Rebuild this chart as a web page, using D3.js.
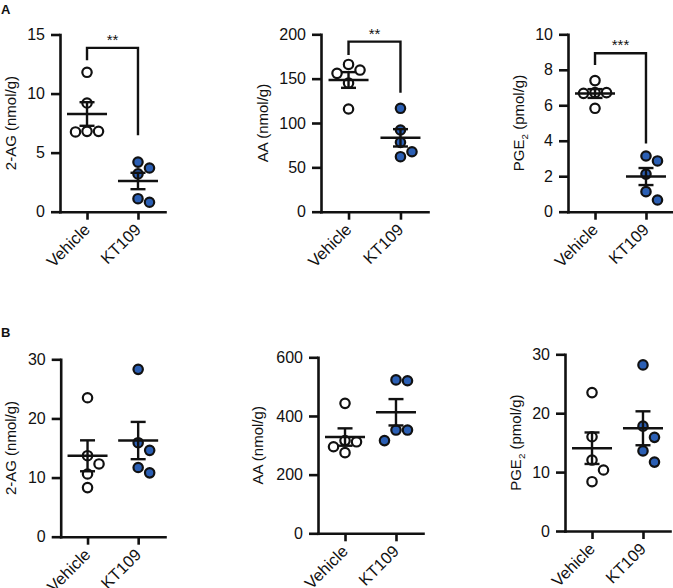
<!DOCTYPE html>
<html><head><meta charset="utf-8">
<script src="https://cdn.jsdelivr.net/npm/d3@7"></script>
<style>
body{margin:0;background:#fff}
text{font-family:"Liberation Sans",Arial,Helvetica,sans-serif;fill:#111}
</style>
</head><body>
<svg id="chart" width="673" height="588"></svg>
<script>
// ---------- data ----------
const groups = ["Vehicle", "KT109"];

// Row A
const a2agVehicle = [11.8, 9.2, 6.8, 6.75, 6.8];
const a2agKT109   = [4.2, 3.7, 3.2, 1.1, 0.8];
const aAAVehicle  = [166, 159.7, 156, 145, 115.8];
const aAAKT109    = [116.6, 92.1, 78.2, 67.6, 62];
const aPGEVehicle = [7.39, 6.71, 6.67, 6.71, 5.83];
const aPGEKT109   = [3.14, 2.86, 2.12, 1.13, 0.66];

// Row B
const b2agVehicle = [23.5, 13.7, 12.3, 10.6, 8.3];
const b2agKT109   = [28.3, 15.9, 14.6, 11.7, 10.8];
const bAAVehicle  = [443, 316, 312, 295, 275];
const bAAKT109    = [523, 520, 352, 352, 316];
const bPGEVehicle = [23.5, 16.0, 12.05, 10.36, 8.37];
const bPGEKT109   = [28.2, 17.8, 15.9, 13.6, 11.7];

// tick labels
const ticksA2AG = [0, 5, 10, 15];
const ticksAAA  = [0, 50, 100, 150, 200];
const ticksAPGE = [0, 2, 4, 6, 8, 10];
const ticksB2AG = [0, 10, 20, 30];
const ticksBAA  = [0, 200, 400, 600];
const ticksBPGE = [0, 10, 20, 30];

// significance brackets (data units: top, left end, right end) and labels
const sigA2AG = [13.87, 12.83, 6.48];
const sigAAA  = [191.7, 176.7, 134.2];
const sigAPGE = [8.93, 8.27, 3.85];
const sigLabels = ["**", "**", "***"];

// axis titles
const titles = [["2-AG (nmol/g)"], ["AA (nmol/g)"], ["PGE", "2", " (pmol/g)"]];

// ---------- layout ----------
const svg = d3.select("#chart");
const BLUE = "#2b5fb4";

const panels = [
  {ax: 60,  x1: 165, top: 34.5,  bot: 211.7, lab: 44, title: titles[0], v: a2agVehicle, k: a2agKT109, ticks: ticksA2AG, sig: sigA2AG, sigLab: sigLabels[0]},
  {ax: 321, x1: 428, top: 34.3,  bot: 211.7, lab: 53, title: titles[1], v: aAAVehicle,  k: aAAKT109,  ticks: ticksAAA,  sig: sigAAA,  sigLab: sigLabels[1]},
  {ax: 568, x1: 673, top: 34.3,  bot: 211.7, lab: 44, title: titles[2], v: aPGEVehicle, k: aPGEKT109, ticks: ticksAPGE, sig: sigAPGE, sigLab: sigLabels[2]},
  {ax: 60.7,x1: 165, top: 359.3, bot: 536.7, lab: 45, title: titles[0], v: b2agVehicle, k: b2agKT109, ticks: ticksB2AG},
  {ax: 318, x1: 423, top: 357.3, bot: 533.3, lab: 55, title: titles[1], v: bAAVehicle,  k: bAAKT109,  ticks: ticksBAA},
  {ax: 565, x1: 670, top: 354.3, bot: 531,   lab: 44, title: titles[2], v: bPGEVehicle, k: bPGEKT109, ticks: ticksBPGE}
];

function dodge(vals, y, cx, d, minDist) {
  const order = vals.map((v, i) => i).sort((a, b) => vals[b] - vals[a]);
  const placed = [], out = new Array(vals.length);
  const cands = [0, 1, -1, 2, -2, 3, -3];
  for (const i of order) {
    const py = y(vals[i]);
    for (const c of cands) {
      const px = cx + c * d;
      if (placed.every(p => Math.hypot(p[0] - px, p[1] - py) >= minDist - 0.01)) {
        placed.push([px, py]); out[i] = [px, py]; break;
      }
    }
  }
  return out;
}

const TICK_FS = 16, XL_FS = 16.5, TITLE_FS = 15;

panels.forEach(p => {
  const g = svg.append("g");
  const dom = d3.extent(p.ticks);
  const y = d3.scaleLinear().domain(dom).range([p.bot, p.top]);
  const x = d3.scalePoint().domain(groups).range([p.ax, p.x1]).padding(0.53);

  // y axis
  const ya = g.append("g").attr("transform", `translate(${p.ax},0)`)
    .call(d3.axisLeft(y).tickValues(p.ticks).tickSize(9).tickSizeOuter(0).tickPadding(6).tickFormat(d3.format("d")));
  // x axis
  const xa = g.append("g").attr("transform", `translate(0,${p.bot})`)
    .call(d3.axisBottom(x).tickSize(8).tickSizeOuter(0).tickFormat(""));
  [ya, xa].forEach(a => {
    a.select(".domain").attr("stroke", "#111").attr("stroke-width", 2.6).attr("stroke-linecap", "square");
    a.selectAll(".tick line").attr("stroke", "#111").attr("stroke-width", 2.6);
  });
  ya.selectAll(".tick text").attr("font-size", TICK_FS).attr("fill", "#111")
    .style("font-family", '"Liberation Sans",Arial,sans-serif');

  // x labels rotated
  g.selectAll("text.xl").data(groups).enter().append("text")
    .attr("class", "xl")
    .attr("transform", d => `translate(${x(d) + 4},${p.bot + 19}) rotate(-45)`)
    .attr("text-anchor", "end")
    .attr("font-size", XL_FS)
    .text(d => d);

  // y title
  const t = g.append("text")
    .attr("transform", `translate(${p.ax - p.lab},${(p.top + p.bot) / 2}) rotate(-90)`)
    .attr("text-anchor", "middle")
    .attr("font-size", TITLE_FS);
  t.append("tspan").text(p.title[0]);
  if (p.title.length > 1) {
    t.append("tspan").attr("font-size", TITLE_FS * 0.65).attr("dy", 4).text(p.title[1]);
    t.append("tspan").attr("dy", -4).text(p.title[2]);
  }

  // points
  const sets = [p.v, p.k];
  sets.forEach((vals, gi) => {
    const pos = dodge(vals, y, x(groups[gi]), 11.5, 11.5);
    g.selectAll(null).data(pos).enter().append("circle")
      .attr("cx", d => d[0]).attr("cy", d => d[1]).attr("r", 4.7)
      .attr("fill", gi === 0 ? "#fff" : BLUE)
      .attr("stroke", "#111").attr("stroke-width", 2.2);
  });

  // mean +- SEM
  sets.forEach((vals, gi) => {
    const m = d3.mean(vals);
    const sem = d3.deviation(vals) / Math.sqrt(vals.length);
    const cx = x(groups[gi]);
    const lg = g.append("g").attr("stroke", "#111").attr("stroke-width", 2.4).attr("fill", "none");
    lg.append("line").attr("x1", cx - 20).attr("x2", cx + 20).attr("y1", y(m)).attr("y2", y(m));
    lg.append("line").attr("x1", cx).attr("x2", cx).attr("y1", y(m - sem)).attr("y2", y(m + sem));
    [m - sem, m + sem].forEach(v => lg.append("line").attr("x1", cx - 7.5).attr("x2", cx + 7.5).attr("y1", y(v)).attr("y2", y(v)));
  });

  // significance bracket
  if (p.sig) {
    const xl = x(groups[0]), xr = x(groups[1]);
    g.append("path")
      .attr("d", d3.line()([[xl, y(p.sig[1])], [xl, y(p.sig[0])], [xr, y(p.sig[0])], [xr, y(p.sig[2])]]))
      .attr("fill", "none").attr("stroke", "#111").attr("stroke-width", 2.4);
    g.append("text").attr("x", (xl + xr) / 2).attr("y", y(p.sig[0]) - 3)
      .attr("text-anchor", "middle").attr("font-size", 15).text(p.sigLab);
  }
});

// panel letters
svg.append("text").attr("x", 1).attr("y", 14).attr("font-size", 13).attr("font-weight", "bold").text("A");
svg.append("text").attr("x", 1).attr("y", 337).attr("font-size", 13).attr("font-weight", "bold").text("B");
</script>
</body></html>
